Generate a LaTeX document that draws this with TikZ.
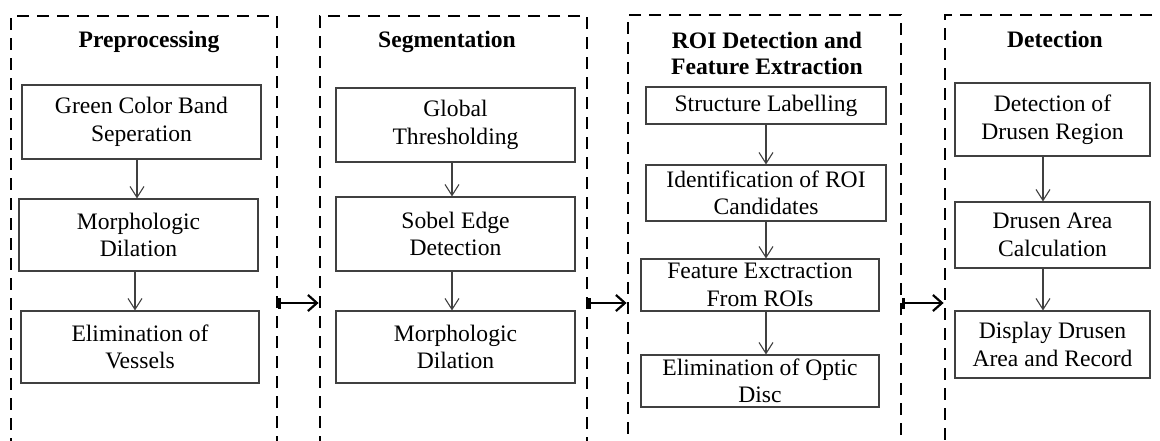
\documentclass[tikz,border=0pt]{standalone}
\usepackage{fontspec}
\setmainfont{Liberation Serif}
\usetikzlibrary{arrows.meta}
\begin{document}
\begin{tikzpicture}[x=1pt,y=-1pt,
  font=\fontsize{23.6}{27.5}\selectfont,
  group/.style={draw=black, line width=2.8pt, dash pattern=on 12pt off 8pt, inner sep=0pt},
  stepbox/.style={draw=black!75, line width=1.1pt, align=center, inner sep=0pt},
  title/.style={font=\fontsize{23.6}{27.5}\selectfont\bfseries, align=center, anchor=base},
  flow/.style={draw=black!75, line width=1.1pt, -{Straight Barb[length=11pt,width=14pt]}},
  link/.style={draw=black, line width=2.4pt, {Bar[width=11pt,line width=2.2pt]}-{Straight Barb[length=9pt,width=16pt,line width=2.2pt]}}]
\useasboundingbox (0,0) rectangle (1160,440);

% groups
\node[group, minimum width=266pt, minimum height=426pt] (G1) at (144,229) {};
\node[group, minimum width=267pt, minimum height=426pt] (G2) at (453.5,229) {};
\node[group, minimum width=273pt, minimum height=427pt] (G3) at (764.5,228.5) {};
\node[group, minimum width=230pt, minimum height=427pt] (G4) at (1060,228.5) {};

% titles
\node[title] (T1) at (149,47) {Preprocessing};
\node[title] (T2) at (447,47) {Segmentation};
\node[title] (T3) at (767,48) {ROI Detection and};
\node[title] (T3b) at (767,74) {Feature Extraction};
\node[title] (T4) at (1055,47) {Detection};

% column 1
\node[stepbox, minimum width=239pt, minimum height=74pt] (A1) at (141.5,122) {Green Color Band\\Seperation};
\node[stepbox, minimum width=239pt, minimum height=72pt] (A2) at (138.5,235) {Morphologic\\Dilation};
\node[stepbox, minimum width=238pt, minimum height=72pt] (A3) at (140,347) {Elimination of\\Vessels};

% column 2
\node[stepbox, minimum width=239pt, minimum height=74pt] (B1) at (455.5,125) {Global\\Thresholding};
\node[stepbox, minimum width=239pt, minimum height=74pt] (B2) at (455.5,234) {Sobel Edge\\Detection};
\node[stepbox, minimum width=239pt, minimum height=72pt] (B3) at (455.5,347) {Morphologic\\Dilation};

% column 3
\node[stepbox, minimum width=240pt, minimum height=37pt] (C1) at (766,105.5) {Structure Labelling};
\node[stepbox, minimum width=240pt, minimum height=56pt] (C2) at (766,193) {Identification of ROI\\Candidates};
\node[stepbox, minimum width=238pt, minimum height=52pt] (C3) at (760,285) {Feature Exctraction\\From ROIs};
\node[stepbox, minimum width=238pt, minimum height=52pt] (C4) at (760,381) {Elimination of Optic\\Disc};

% column 4
\node[stepbox, minimum width=195pt, minimum height=73pt] (D1) at (1052.5,119.5) {Detection of\\Drusen Region};
\node[stepbox, minimum width=195pt, minimum height=66pt] (D2) at (1052.5,235) {Drusen Area\\Calculation};
\node[stepbox, minimum width=195pt, minimum height=67pt] (D3) at (1052.5,344.5) {Display Drusen\\Area and Record};

% flows within columns
\draw[flow] ([xshift=-4.5pt]A1.south) -- ([xshift=-4.5pt]A1.south |- A2.north);
\draw[flow] ([xshift=-3.5pt]A2.south) -- ([xshift=-3.5pt]A2.south |- A3.north);
\draw[flow] ([xshift=-3.5pt]B1.south) -- ([xshift=-3.5pt]B1.south |- B2.north);
\draw[flow] ([xshift=-3.5pt]B2.south) -- ([xshift=-3.5pt]B2.south |- B3.north);
\draw[flow] (C1.south) -- (C1.south |- C2.north);
\draw[flow] (C2.south) -- (C2.south |- C3.north);
\draw[flow] (C3.south -| C2.south) -- (C2.south |- C4.north);
\draw[flow] ([xshift=-9.5pt]D1.south) -- ([xshift=-9.5pt]D1.south |- D2.north);
\draw[flow] ([xshift=-9.5pt]D2.south) -- ([xshift=-9.5pt]D2.south |- D3.north);

% links between groups
\coordinate (L) at (0,303);
\draw[link] (G1.east |- L) -- (G2.west |- L);
\draw[link] (G2.east |- L) -- (G3.west |- L);
\draw[link] (G3.east |- L) -- (G4.west |- L);
\end{tikzpicture}
\end{document}
